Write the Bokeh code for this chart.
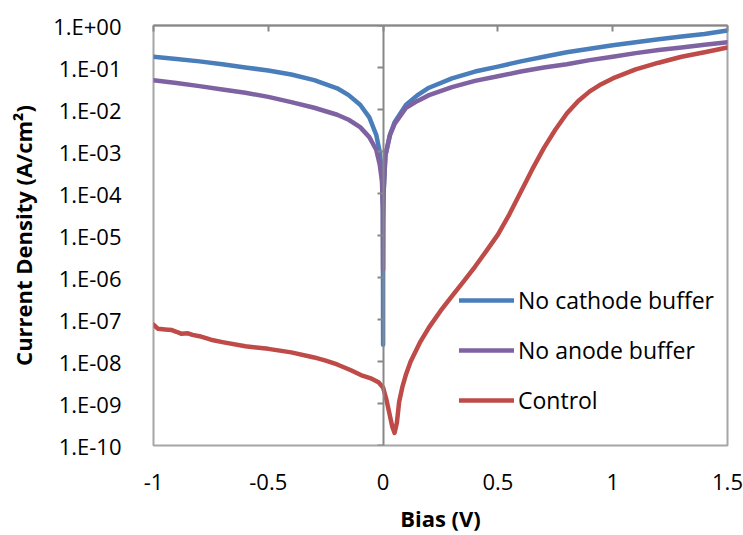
from bokeh.plotting import figure
from bokeh.models import (LogAxis, LinearAxis, FixedTicker, CustomJSTickFormatter,
                          Legend, LegendItem, ColumnDataSource)
from bokeh.embed import file_html
from bokeh.resources import INLINE

# ---------------- data ----------------
x_cathode = [-1.0, -0.9, -0.8, -0.7, -0.6, -0.5, -0.4, -0.3, -0.2, -0.15, -0.1, -0.06,
             -0.03, -0.015, -0.005, -0.001, 0.0, 0.0, 0.002, 0.01, 0.03, 0.05, 0.1, 0.15,
             0.2, 0.3, 0.4, 0.5, 0.6, 0.7, 0.8, 0.9, 1.0, 1.1, 1.2, 1.3, 1.4, 1.5]
y_cathode = [0.18, 0.16, 0.14, 0.12, 0.10, 0.085, 0.068, 0.050, 0.032, 0.022, 0.013, 0.0065,
             0.0025, 0.001, 0.0003, 5e-5, 2.5e-8, 2e-5, 1e-4, 8e-4, 0.0025, 0.005, 0.013, 0.022,
             0.033, 0.055, 0.080, 0.105, 0.14, 0.18, 0.23, 0.28, 0.34, 0.40, 0.47, 0.55, 0.63, 0.76]

x_anode = [-1.0, -0.9, -0.8, -0.7, -0.6, -0.5, -0.4, -0.3, -0.2, -0.15, -0.1, -0.06,
           -0.03, -0.015, -0.005, -0.001, 0.0, 0.001, 0.002, 0.01, 0.03, 0.05, 0.1, 0.15,
           0.2, 0.3, 0.4, 0.5, 0.6, 0.7, 0.8, 0.9, 1.0, 1.1, 1.2, 1.3, 1.4, 1.5]
y_anode = [0.050, 0.043, 0.036, 0.030, 0.025, 0.020, 0.015, 0.011, 0.0075, 0.0057, 0.0038, 0.0022,
           0.0011, 0.0005, 0.0002, 4e-5, 1.5e-6, 4e-5, 1e-4, 8e-4, 0.0025, 0.0045, 0.011, 0.016,
           0.022, 0.034, 0.048, 0.062, 0.080, 0.10, 0.12, 0.15, 0.18, 0.22, 0.26, 0.30, 0.35, 0.40]

x_control = [-1.0, -0.98, -0.95, -0.92, -0.9, -0.88, -0.85, -0.83, -0.8, -0.75, -0.7, -0.6,
             -0.5, -0.4, -0.3, -0.25, -0.2, -0.14, -0.09, -0.05, -0.02, 0.0, 0.015, 0.03,
             0.04, 0.05, 0.06, 0.07, 0.085, 0.1, 0.12, 0.16, 0.2, 0.25, 0.3, 0.35, 0.4,
             0.45, 0.5, 0.55, 0.6, 0.65, 0.7, 0.75, 0.8, 0.85, 0.9, 0.95, 1.0, 1.1,
             1.2, 1.3, 1.4, 1.5]
y_control = [7.5e-8, 6.0e-8, 5.8e-8, 5.6e-8, 5.1e-8, 4.6e-8, 4.7e-8, 4.3e-8, 4.0e-8, 3.3e-8, 2.9e-8, 2.3e-8,
             2.0e-8, 1.65e-8, 1.25e-8, 1.05e-8, 8.5e-9, 6.2e-9, 4.6e-9, 3.9e-9, 3.2e-9, 2.4e-9, 1.2e-9, 5e-10,
             2.8e-10, 2.0e-10, 3.5e-10, 1.1e-9, 2.6e-9, 5.0e-9, 1.0e-8, 2.8e-8, 6.5e-8, 1.6e-7, 3.6e-7, 8.0e-7, 1.8e-6,
             4.3e-6, 1.05e-5, 3.2e-5, 1.1e-4, 3.8e-4, 1.2e-3, 3.3e-3, 8.0e-3, 1.6e-2, 2.7e-2, 4.0e-2, 5.5e-2, 9.0e-2,
             0.13, 0.18, 0.23, 0.30]

series_names = ["No cathode buffer", "No anode buffer", "Control"]
series_colors = ["#4A7EBB", "#7F62A1", "#BE4B48"]

x_ticks = [-1, -0.5, 0, 0.5, 1, 1.5]
x_tick_labels = ["-1", "-0.5", "0", "0.5", "1", "1.5"]
y_ticks = [1e-10, 1e-9, 1e-8, 1e-7, 1e-6, 1e-5, 1e-4, 1e-3, 1e-2, 1e-1, 1e0]
y_tick_labels = ["1.E-10", "1.E-09", "1.E-08", "1.E-07", "1.E-06", "1.E-05",
                 "1.E-04", "1.E-03", "1.E-02", "1.E-01", "1.E+00"]

x_title = "Bias (V)"
y_title = "Current Density (A/cm\u00b2)"

# ---------------- figure ----------------
FONT = "Open Sans"
AXIS_GRAY = "#888888"
BORDER_GRAY = "#A6A6A6"

p = figure(width=743, height=535, y_axis_type="log",
           x_range=(-1, 1.5), y_range=(1e-10, 1),
           output_backend="svg", toolbar_location=None,
           min_border_left=153, min_border_right=16,
           min_border_top=25, min_border_bottom=87)

p.xgrid.visible = False
p.ygrid.visible = False
p.outline_line_color = BORDER_GRAY
p.outline_line_width = 2
p.background_fill_color = "white"
p.border_fill_color = "white"

fmt_x = CustomJSTickFormatter(args=dict(tvals=x_ticks, tlabels=x_tick_labels), code="""
    let best = 0, bd = Infinity;
    for (let i = 0; i < tvals.length; i++) {
        const d = Math.abs(tvals[i] - tick);
        if (d < bd) { bd = d; best = i; }
    }
    return tlabels[best];
""")
fmt_y = CustomJSTickFormatter(args=dict(tvals=y_ticks, tlabels=y_tick_labels), code="""
    let best = 0, bd = Infinity;
    for (let i = 0; i < tvals.length; i++) {
        const d = Math.abs(Math.log10(tvals[i]) - Math.log10(tick));
        if (d < bd) { bd = d; best = i; }
    }
    return tlabels[best];
""")
fmt_blank_x = CustomJSTickFormatter(code='return "";')
fmt_blank_y = CustomJSTickFormatter(code='return "";')

# bottom axis: labels only
xa = p.xaxis[0]
xa.ticker = FixedTicker(ticks=x_ticks)
xa.formatter = fmt_x
xa.axis_line_color = None
xa.major_tick_line_color = None
xa.minor_tick_line_color = None
xa.major_label_standoff = 22
xa.major_label_text_font = FONT
xa.major_label_text_font_size = "22px"
xa.major_label_text_color = "#000000"
xa.axis_label = x_title
xa.axis_label_text_font = FONT
xa.axis_label_text_font_style = "bold"
xa.axis_label_text_font_size = "22px"
xa.axis_label_text_color = "#000000"
xa.axis_label_standoff = 10

# left axis: labels only
ya = p.yaxis[0]
ya.ticker = FixedTicker(ticks=y_ticks)
ya.formatter = fmt_y
ya.axis_line_color = None
ya.major_tick_line_color = None
ya.minor_tick_line_color = None
ya.major_label_standoff = 26
ya.major_label_text_font = FONT
ya.major_label_text_font_size = "22px"
ya.major_label_text_color = "#000000"
ya.axis_label = y_title
ya.axis_label_text_font = FONT
ya.axis_label_text_font_style = "bold"
ya.axis_label_text_font_size = "22px"
ya.axis_label_text_color = "#000000"
ya.axis_label_standoff = 12

# top axis line with inward ticks (x axis crossing at 1.E+00)
top = LinearAxis(ticker=FixedTicker(ticks=x_ticks), formatter=fmt_blank_x,
                 axis_line_color=AXIS_GRAY,
                 axis_line_width=2, major_tick_line_color=AXIS_GRAY, major_tick_line_width=2,
                 major_tick_in=6, major_tick_out=0, minor_tick_line_color=None,
                 major_label_standoff=0)
p.add_layout(top, "above")

# vertical axis crossing at x = 0, ticks pointing left
mid = LogAxis(ticker=FixedTicker(ticks=y_ticks), formatter=fmt_blank_y, fixed_location=0,
              axis_line_color=AXIS_GRAY, axis_line_width=2,
              major_tick_line_color=AXIS_GRAY, major_tick_line_width=2,
              major_tick_in=0, major_tick_out=6, minor_tick_line_color=None,
              major_label_standoff=0)
p.add_layout(mid, "left")

renderers = []
for xs, ys, c in [(x_cathode, y_cathode, series_colors[0]),
                  (x_anode, y_anode, series_colors[1]),
                  (x_control, y_control, series_colors[2])]:
    src = ColumnDataSource(dict(x=xs, y=ys))
    r = p.line("x", "y", source=src, line_color=c, line_width=4.5,
               line_join="round", line_cap="round")
    renderers.append(r)

legend = Legend(items=[LegendItem(label=n, renderers=[r]) for n, r in zip(series_names, renderers)],
                location=(306, 29), orientation="vertical",
                border_line_color=None, background_fill_alpha=0,
                label_text_font=FONT, label_text_font_size="23px", label_text_color="#000000",
                glyph_width=55, glyph_height=20, label_height=20, label_standoff=4,
                spacing=18, padding=0, margin=0)
p.add_layout(legend)

open("out.html", "w").write(file_html(p, INLINE))
